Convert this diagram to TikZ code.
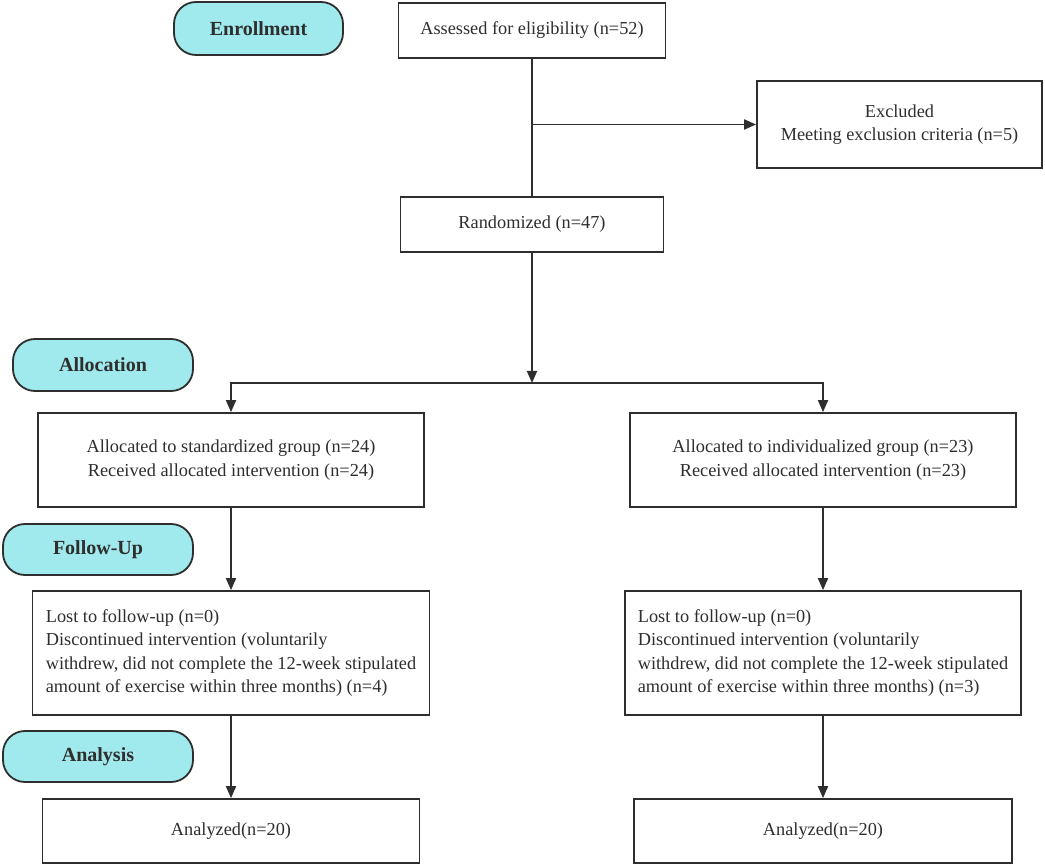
\documentclass[tikz,border=0pt]{standalone}
\usepackage{fontspec}
\setmainfont{Liberation Serif}
\usetikzlibrary{arrows.meta}
\definecolor{ln}{HTML}{2E2E2E}
\definecolor{pillfill}{HTML}{A0E9EC}
\begin{document}
\begin{tikzpicture}[x=1pt,y=-1pt,
  box/.style={draw=ln, line width=1.8pt, fill=white, inner sep=0pt, align=center,
    font=\fontsize{18.3}{23.5}\selectfont, text=ln},
  lbox/.style={box, align=left},
  phase/.style={draw=ln, line width=1.8pt, fill=pillfill, rounded corners=22pt, inner sep=0pt,
    font=\fontsize{20}{24}\selectfont\bfseries, text=ln},
  conn/.style={draw=ln, line width=1.8pt},
  arr/.style={conn, -{Triangle[length=12pt,width=10pt]}}]
\useasboundingbox (0,0) rectangle (1045,866);

% phase labels
\node[phase, minimum width=169pt, minimum height=53pt] (enroll) at (258.5,28.5) {Enrollment};
\node[phase, minimum width=180pt, minimum height=52pt] (alloc) at (103,365) {Allocation};
\node[phase, minimum width=190pt, minimum height=51pt] (follow) at (98,549.5) {Follow-Up};
\node[phase, minimum width=190pt, minimum height=51pt] (analysis) at (98,756.5) {Analysis};

% boxes
\node[box, minimum width=267pt, minimum height=55pt] (assess) at (532,30.5) {Assessed for eligibility (n=52)};
\node[box, minimum width=285pt, minimum height=87pt] (excl) at (899.5,124.5) {Excluded\\Meeting exclusion criteria (n=5)};
\node[box, minimum width=263pt, minimum height=55pt] (rand) at (532,224.5) {Randomized (n=47)};

\node[box, minimum width=386pt, minimum height=94pt] (allocL) at (231,460) {Allocated to standardized group (n=24)\\Received allocated intervention (n=24)};
\node[box, minimum width=386pt, minimum height=94pt] (allocR) at (823,460) {Allocated to individualized group (n=23)\\Received allocated intervention (n=23)};

\node[lbox, minimum width=397pt, minimum height=124pt] (fuL) at (231,653) {Lost to follow-up (n=0)\\Discontinued intervention (voluntarily\\withdrew, did not complete the 12-week stipulated\\amount of exercise within three months) (n=4)};
\node[lbox, minimum width=396pt, minimum height=124pt] (fuR) at (823,653) {Lost to follow-up (n=0)\\Discontinued intervention (voluntarily\\withdrew, did not complete the 12-week stipulated\\amount of exercise within three months) (n=3)};

\node[box, minimum width=377pt, minimum height=64pt] (anL) at (231,831) {Analyzed(n=20)};
\node[box, minimum width=378pt, minimum height=64pt] (anR) at (823,831) {Analyzed(n=20)};

% connectors
\draw[conn] (assess.south) -- (rand.north);
\draw[arr] (assess.south |- excl.west) -- (excl.west);
\coordinate (split) at (532,383);
\draw[arr] (rand.south) -- (split);
\draw[arr] (split) -| (allocL.north);
\draw[arr] (split) -| (allocR.north);
\draw[arr] (allocL.south) -- (allocL.south |- fuL.north);
\draw[arr] (allocR.south) -- (allocR.south |- fuR.north);
\draw[arr] (fuL.south) -- (fuL.south |- anL.north);
\draw[arr] (fuR.south) -- (fuR.south |- anR.north);
\end{tikzpicture}
\end{document}
